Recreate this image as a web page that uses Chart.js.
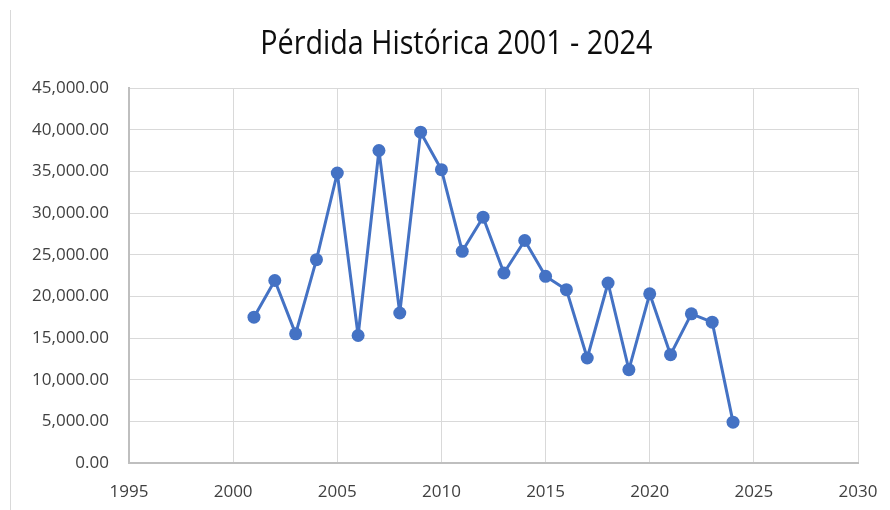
<!DOCTYPE html>
<html>
<head>
<meta charset="utf-8">
<title>Pérdida Histórica 2001 - 2024</title>
<script src="https://cdn.jsdelivr.net/npm/chart.js@4.4.1/dist/chart.umd.min.js"></script>
<style>
  html, body { margin: 0; padding: 0; background: #fff; }
  #wrap { position: relative; width: 890px; height: 510px; }
  #frame { position: absolute; left: 10px; top: 10px; bottom: 0; border-left: 1px solid #d9d9d9; }
  #title {
    position: absolute; left: 0; width: 913px; top: 19px;
    text-align: center; font-family: 'Open Sans', sans-serif; font-size: 33px;
    line-height: 45px; color: #0d0d0d; white-space: nowrap;
  }
  #title span { display: inline-block; transform: scaleX(0.87); transform-origin: center; }
</style>
</head>
<body>
<div id="wrap">
  <div id="frame"></div>
  <canvas id="lossChart" width="890" height="510"></canvas>
  <div id="title"><span></span></div>
</div>
<script>
// years and loss values
const years = [2001, 2002, 2003, 2004, 2005, 2006, 2007, 2008, 2009, 2010, 2011, 2012,
               2013, 2014, 2015, 2016, 2017, 2018, 2019, 2020, 2021, 2022, 2023, 2024];
const losses = [17500, 21900, 15500, 24400, 34800, 15300, 37500, 18000, 39700, 35200, 25400, 29500,
                22800, 26700, 22400, 20800, 12600, 21600, 11200, 20300, 13000, 17900, 16900, 4900];

const xRange = [1995, 2030];
const xStep = 5;
const yRange = [0, 45000];
const yStep = 5000;

const chartTitle = 'Pérdida Histórica 2001 - 2024';

const blue = '#4472C4';
const tickFont = { family: "'Open Sans', sans-serif", size: 17 };

document.querySelector('#title span').textContent = chartTitle;

const points = years.map((y, i) => ({ x: y, y: losses[i] }));

const ctx = document.getElementById('lossChart').getContext('2d');
const lossChart = new Chart(ctx, {
    type: 'line',
    data: {
        datasets: [{
            label: 'Pérdida',
            data: points,
            borderColor: blue,
            backgroundColor: blue,
            borderWidth: 3,
            borderJoinStyle: 'round',
            borderCapStyle: 'round',
            pointRadius: 6.5,
            pointBorderWidth: 0,
            pointBackgroundColor: blue,
            tension: 0,
            fill: false
        }]
    },
    options: {
        responsive: false,
        animation: false,
        layout: { padding: { top: 88, right: 32, bottom: 0, left: 0 } },
        plugins: {
            legend: { display: false },
            tooltip: { enabled: false },
            title: { display: false }
        },
        scales: {
            x: {
                type: 'linear',
                min: xRange[0],
                max: xRange[1],
                ticks: {
                    stepSize: xStep,
                    padding: 19,
                    color: '#404040',
                    font: tickFont,
                    callback: v => String(v)
                },
                grid: { color: '#d9d9d9', lineWidth: 1, drawTicks: false },
                border: { color: '#bfbfbf', width: 2 },
                afterFit: scale => {
                    scale.height = 47;
                    scale.paddingLeft = 0;
                    scale.paddingRight = 0;
                }
            },
            y: {
                min: yRange[0],
                max: yRange[1],
                ticks: {
                    stepSize: yStep,
                    padding: 20,
                    color: '#404040',
                    font: tickFont,
                    callback: v => v.toLocaleString('en-US', { minimumFractionDigits: 2, maximumFractionDigits: 2 })
                },
                grid: { color: '#d9d9d9', lineWidth: 1, drawTicks: false },
                border: { color: '#bfbfbf', width: 2 },
                afterFit: scale => { scale.width = 129; }
            }
        }
    }
});
</script>
</body>
</html>
